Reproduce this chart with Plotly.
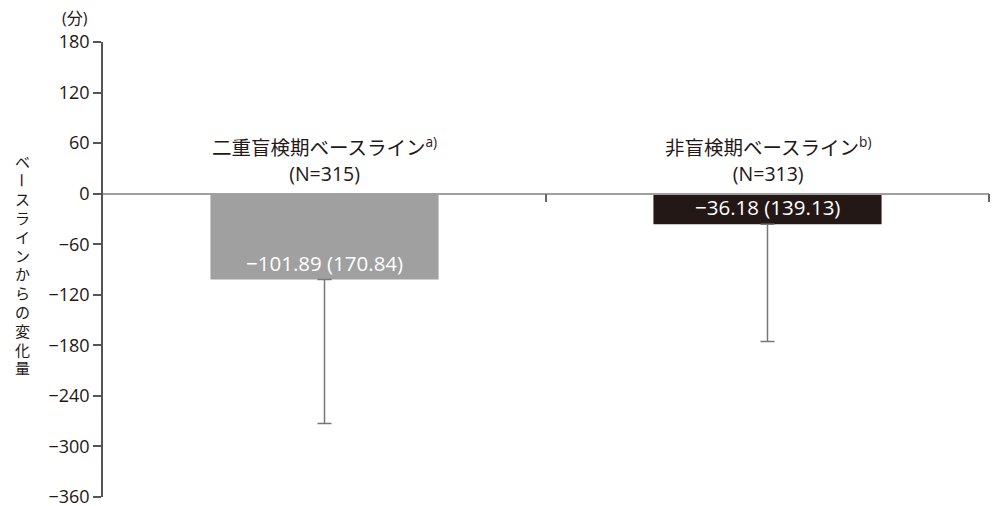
import plotly.graph_objects as go

# Change from baseline (minutes): mean and SD per analysis set
categories = ["二重盲検期ベースライン<sup>a)</sup>", "非盲検期ベースライン<sup>b)</sup>"]
n_counts = [315, 313]
means = [-101.89, -36.18]
sds = [170.84, 139.13]
bar_colors = ["#a0a0a0", "#231815"]

y_ticks = [180, 120, 60, 0, -60, -120, -180, -240, -300, -360]
y_min, y_max = -360, 180
y_title = "ベースラインからの変化量"

FONT = "Open Sans, Noto Sans CJK JP"
CJK = "Noto Sans CJK JP"
INK = "#231815"


def fmt_minus(v, digits=2):
    s = f"{v:.{digits}f}" if isinstance(v, float) else f"{v}"
    return s.replace("-", "−")


x_pos = list(range(len(categories)))

fig = go.Figure()
fig.add_trace(
    go.Bar(
        x=x_pos,
        y=means,
        width=0.515,
        marker=dict(color=bar_colors, line=dict(width=0)),
        error_y=dict(
            type="data",
            symmetric=False,
            array=[0] * len(sds),
            arrayminus=sds,
            color="#777777",
            thickness=1.5,
            width=7,
        ),
        hoverinfo="skip",
    )
)

annotations = []
# Category labels above the zero line
for x, cat, n in zip(x_pos, categories, n_counts):
    annotations.append(
        dict(
            x=x, y=0, xref="x", yref="y",
            text=f"{cat}<br>(N={n})",
            showarrow=False, xanchor="center", yanchor="bottom", yshift=5,
            font=dict(family=FONT, size=19.5, color=INK),
            align="center",
        )
    )
# Mean (SD) labels inside the bars, near the bar end
for x, m, s in zip(x_pos, means, sds):
    annotations.append(
        dict(
            x=x, y=m, xref="x", yref="y",
            text=f"{fmt_minus(m)} ({s:.2f})",
            showarrow=False, xanchor="center", yanchor="middle", yshift=17,
            font=dict(family=FONT, size=20.5, color="#ffffff"),
        )
    )

# Paper-anchored texts given in pixels, converted to paper fractions below
W, H = 992, 506
ML, MR, MT, MB = 103, 3, 42, 9
pw, ph = W - ML - MR, H - MT - MB


def px_to_paper(xp, yp):
    return (xp - ML) / pw, 1 - (yp - MT) / ph


# Unit label
ux, uy = px_to_paper(75, 18)
annotations.append(
    dict(
        x=ux, y=uy, xref="paper", yref="paper",
        text="(分)", showarrow=False, xanchor="center", yanchor="middle",
        font=dict(family=FONT, size=16, color=INK),
    )
)
# Vertical axis title: upright characters stacked, long-vowel mark turned
step = 18.8
top_center = 161
for i, ch in enumerate(y_title):
    cx, cy = px_to_paper(22, top_center + i * step)
    annotations.append(
        dict(
            x=cx, y=cy, xref="paper", yref="paper",
            text=ch, showarrow=False, xanchor="center", yanchor="middle",
            textangle=90 if ch == "ー" else 0,
            font=dict(family=CJK, size=15, color=INK),
        )
    )

zero_pos = (0 - y_min) / (y_max - y_min)

fig.update_layout(
    width=W, height=H,
    margin=dict(l=ML, r=MR, t=MT, b=MB, autoexpand=False),
    paper_bgcolor="white", plot_bgcolor="white",
    showlegend=False,
    annotations=annotations,
    xaxis=dict(
        range=[-0.5, len(categories) - 0.5],
        anchor="free", position=zero_pos,
        showline=True, linecolor="#a0a0a0", linewidth=1.5,
        tickmode="array",
        tickvals=[i + 0.5 for i in range(len(categories))],
        ticks="outside", ticklen=8, tickwidth=1.5, tickcolor="#666666",
        showticklabels=False, showgrid=False, zeroline=False,
        automargin=False, fixedrange=True,
    ),
    yaxis=dict(
        range=[y_min, y_max],
        tickmode="array", tickvals=y_ticks,
        ticktext=[fmt_minus(t) for t in y_ticks],
        ticks="outside", ticklen=8, tickwidth=1.5, tickcolor="#555555",
        showline=True, linecolor="#555555", linewidth=1.5,
        showgrid=False, zeroline=False,
        ticklabeloverflow="allow",
        tickfont=dict(family=FONT, size=18, color=INK),
        automargin=False, fixedrange=True,
    ),
)

fig.write_html("out.html")
